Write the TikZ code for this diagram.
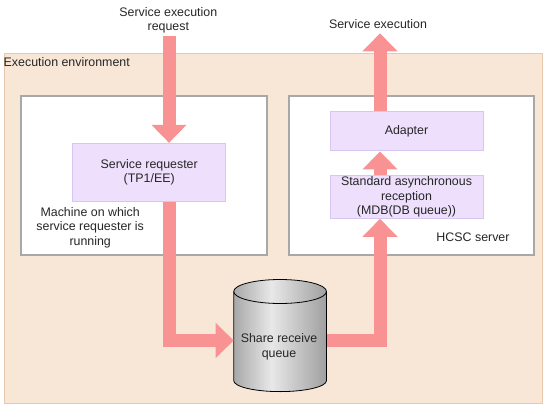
\documentclass[tikz,border=0pt]{standalone}
\usepackage{fontspec}
\setmainfont{Liberation Sans}
\usepackage{tikz}
\usetikzlibrary{arrows.meta}
\definecolor{envfillc}{HTML}{F8E7D7}
\definecolor{envdrawc}{HTML}{E8C9AB}
\definecolor{boxdrawc}{HTML}{A8A8A8}
\definecolor{procfillc}{HTML}{EEE0FC}
\definecolor{procdrawc}{HTML}{D9C6F0}
\definecolor{flowc}{HTML}{F99393}
\colorlet{labelc}{black!85}
\tikzstyle{envbox} =[
    draw=envdrawc,
    fill=envfillc,
    line width=1pt,
    rectangle,
    inner sep=0pt
    ]
\tikzstyle{machinebox} =[
    draw=boxdrawc,
    fill=white,
    line width=2pt,
    rectangle,
    inner sep=0pt
    ]
\tikzstyle{procbox} =[
    draw=procdrawc,
    fill=procfillc,
    line width=1pt,
    rectangle,
    align=center,
    text=labelc,
    inner sep=0pt,
    minimum width=153pt
    ]
\tikzstyle{plaintext} =[
    text=labelc,
    align=center,
    inner sep=0pt
    ]
\tikzstyle{flow} =[
    draw=flowc,
    line width=13pt,
    line join=miter,
    -{Triangle[width=34pt,length=18pt]}
    ]

\begin{document}
\begin{tikzpicture}[x=1pt, y=1pt, font=\fontsize{12.4}{14.5}\selectfont]
\useasboundingbox (0,0) rectangle (545,408);
% containers
\node[envbox, minimum width=538pt, minimum height=349.7pt, anchor=south west] (env) at (3.5,4) {};
\node[plaintext, anchor=west] (envlabel) at (3.5,346.3) {Execution environment};
\node[machinebox, minimum width=246pt, minimum height=158.7pt, anchor=south west] (machine) at (20,152) {};
\node[machinebox, minimum width=245pt, minimum height=158.7pt, anchor=south west] (hcsc) at (288,152) {};
\node[plaintext] (machinelabel) at (90.2,180.7) {Machine on which\\service requester is\\running};
\node[plaintext] (hcsclabel) at (473,170.7) {HCSC server};
% processes
\node[procbox, minimum height=57.7pt] (req) at (149.2,235.8) {Service requester\\(TP1/EE)};
\node[procbox, minimum height=39.3pt] (adapter) at (406.5,276.7) {Adapter};
\node[procbox, minimum height=42.6pt] (async) at (406.5,211) {Standard asynchronous\\reception\\(MDB(DB queue))};
% queue (strips for the metal look)
\begin{scope}
\clip (233.7,116.5) -- (233.7,27.4) arc (180:360:46.4 and 11) -- (326.5,116.5) arc (0:180:46.4 and 12) -- cycle;
\foreach \i in {0,...,46} {
    \pgfmathsetmacro{\p}{\i/46}
    \pgfmathsetmacro{\pct}{\p<0.4 ? 67-49*\p/0.4 : 18+57*(\p-0.4)/0.6}
    \fill[gray!\pct] (233.7+2*\i-0.2,0) rectangle ++(2.4,130);
}
\end{scope}
\draw[line width=0.8pt]
    (233.7,116.5) -- (233.7,27.4) arc (180:360:46.4 and 11) -- (326.5,116.5);
\draw[line width=0.8pt] (280.1,116.5) ellipse (46.4 and 12);
\node[plaintext] (queue) at (279,61.4) {Share receive\\queue};
\coordinate (qin) at (233.7,67.5);
\coordinate (qout) at (326.5,67.5);
% outside labels
\node[plaintext] (request) at (168.3,387.6) {Service execution\\request};
\node[plaintext] (result) at (378,384) {Service execution};
\coordinate (reqtop) at (169,372);
\coordinate (restop) at (380,374.7);
% flows
\draw[flow] (reqtop) -- (reqtop |- req.north);
\draw[flow] (req.south -| reqtop) |- (qin);
\draw[flow] (qout) -| (async.south -| restop);
\draw[flow] (async.north -| restop) -- (adapter.south -| restop);
\draw[flow] (adapter.north -| restop) -- (restop);
\end{tikzpicture}
\end{document}
